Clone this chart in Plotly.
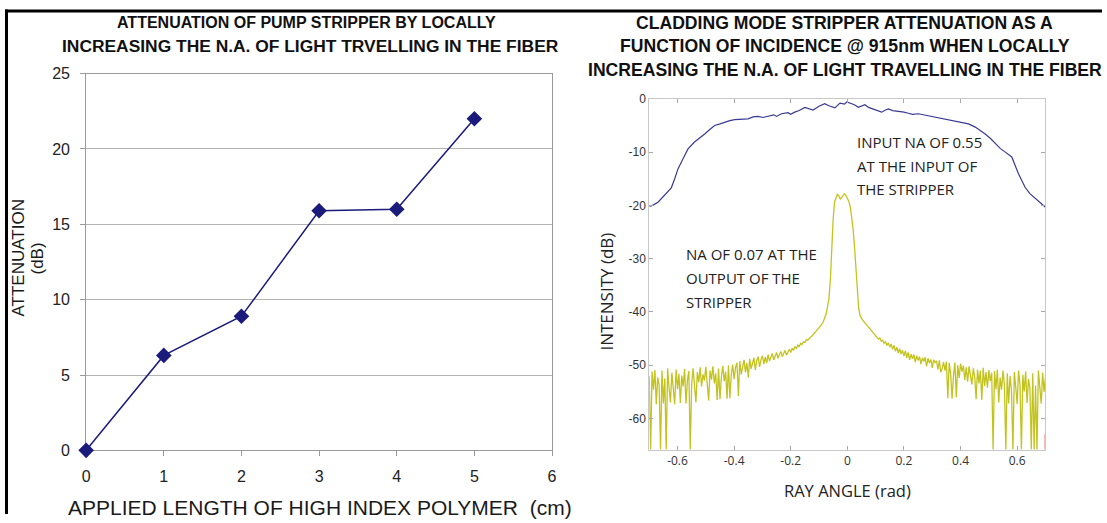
import plotly.graph_objects as go

# ---------------- data : left panel ----------------
LENGTH_CM = [0, 1, 2, 3, 4, 5]
ATTENUATION_DB = [0.0, 6.3, 8.9, 15.9, 16.0, 22.0]
LEFT_X_TICKS = [0, 1, 2, 3, 4, 5, 6]
LEFT_Y_TICKS = [0, 5, 10, 15, 20, 25]

# ---------------- data : right panel ----------------
INPUT_ANGLE = [
    -0.699, -0.685, -0.669, -0.646, -0.622, -0.610, -0.598, -0.581, -0.563, -0.540,
    -0.520, -0.504, -0.485, -0.469, -0.450, -0.434, -0.415, -0.398, -0.375, -0.351,
    -0.333, -0.316, -0.298, -0.280, -0.260, -0.250, -0.233, -0.210, -0.200, -0.186,
    -0.170, -0.150, -0.135, -0.121, -0.100, -0.080, -0.065, -0.044, -0.026, -0.010,
    -0.002, 0.009, 0.025, 0.039, 0.050, 0.062, 0.075, 0.092, 0.105, 0.121,
    0.135, 0.145, 0.160, 0.180, 0.200, 0.216, 0.230, 0.251, 0.270, 0.298,
    0.320, 0.345, 0.370, 0.393, 0.410, 0.428, 0.452, 0.470, 0.487, 0.505,
    0.522, 0.540, 0.558, 0.581, 0.605, 0.628, 0.645, 0.658, 0.680, 0.699,
]
INPUT_DB = [
    -20.2, -19.9, -19.4, -18.1, -16.7, -15.0, -13.1, -11.3, -9.4, -8.1,
    -7.3, -6.6, -5.7, -5.0, -4.7, -4.4, -4.1, -3.9, -3.8, -3.75,
    -3.4, -3.3, -3.5, -3.3, -3.0, -3.3, -2.8, -2.6, -2.9, -2.5,
    -2.2, -1.6, -1.9, -2.1, -1.4, -0.9, -1.3, -1.7, -0.8, -1.0,
    -0.6, -0.8, -1.1, -1.6, -1.3, -1.1, -1.6, -1.9, -2.2, -2.5,
    -2.1, -1.9, -2.2, -2.3, -2.5, -2.7, -2.9, -2.8, -3.0, -3.3,
    -3.5, -3.75, -4.0, -4.2, -4.4, -4.7, -5.3, -5.9, -6.6, -7.4,
    -8.4, -9.3, -10.0, -10.9, -14.1, -16.6, -17.8, -18.4, -19.5, -20.3,
]

OUTPUT_FIRST_ANGLE = -0.700
OUTPUT_ANGLE_STEP = 0.005
OUTPUT_DB = [
    -52.0, -65.8, -51.2, -54.6, -50.9, -57.3, -52.3, -53.8, -65.8, -51.0,
    -57.2, -52.5, -65.8, -50.6, -54.2, -57.0, -51.4, -53.9, -57.3, -50.8,
    -54.5, -51.6, -57.1, -52.0, -54.0, -50.7, -57.2, -52.8, -51.1, -65.8,
    -53.5, -50.6, -54.3, -57.0, -51.3, -53.2, -50.4, -54.0, -51.7, -52.9,
    -50.3, -53.6, -56.6, -51.0, -52.7, -50.2, -53.4, -51.5, -56.5, -50.6,
    -56.4, -52.2, -50.1, -53.0, -51.2, -56.3, -50.0, -56.2, -51.8, -49.9,
    -52.6, -50.4, -49.5, -55.8, -49.2, -51.7, -50.0, -49.0, -51.3, -49.6,
    -52.3, -48.8, -50.7, -49.4, -48.6, -50.9, -49.1, -48.4, -50.3, -48.9,
    -48.2, -49.8, -48.5, -49.6, -48.0, -49.2, -48.3, -47.8, -49.0, -48.1,
    -47.6, -48.7, -47.9, -47.4, -48.4, -47.7, -47.2, -48.1, -47.4, -47.0,
    -47.6, -46.8, -47.2, -46.5, -46.9, -46.2, -46.5, -45.9, -46.1, -45.6,
    -45.7, -45.2, -45.3, -44.9, -44.7, -44.5, -44.1, -43.9, -43.6, -43.3,
    -43.0, -42.6, -42.3, -41.8, -41.2, -40.4, -39.0, -37.5, -34.0, -28.0,
    -22.5, -19.3, -18.4, -17.9, -18.2, -18.8, -18.5, -18.0, -17.8, -18.1,
    -18.6, -19.2, -20.2, -22.0, -24.2, -27.5, -31.5, -36.2, -39.3, -40.7,
    -41.3, -41.6, -41.9, -42.2, -42.6, -42.9, -43.3, -43.5, -43.9, -44.0,
    -44.4, -44.6, -45.1, -44.9, -45.5, -45.3, -45.9, -45.6, -46.3, -45.8,
    -46.6, -46.0, -47.0, -46.3, -47.4, -46.6, -47.7, -46.9, -47.9, -47.2,
    -48.3, -47.3, -48.6, -47.6, -49.0, -47.9, -48.8, -48.0, -49.4, -48.2,
    -49.1, -48.4, -49.8, -48.6, -49.3, -48.5, -50.2, -48.7, -49.6, -48.9,
    -50.5, -49.0, -49.5, -49.2, -50.8, -49.1, -51.3, -50.6, -49.4, -51.0,
    -49.3, -56.2, -49.6, -51.6, -56.3, -52.0, -49.5, -56.0, -50.0, -52.4,
    -49.7, -51.2, -50.1, -52.8, -50.4, -53.1, -50.2, -51.9, -53.6, -50.6,
    -52.2, -56.4, -50.8, -53.4, -51.0, -56.5, -50.5, -53.9, -51.3, -54.2,
    -50.9, -53.0, -51.4, -65.8, -51.1, -54.5, -50.8, -57.0, -52.3, -54.6,
    -51.0, -53.7, -65.8, -51.5, -57.2, -52.0, -54.8, -65.8, -51.3, -54.1,
    -57.3, -51.0, -53.6, -65.8, -51.8, -54.9, -51.2, -57.1, -52.6, -54.4,
    -65.8, -51.5, -65.8, -53.8, -65.8, -51.0, -54.7, -57.2, -51.4, -55.0,
    -52.2,
]
OUTPUT_ANGLE = [round(OUTPUT_FIRST_ANGLE + OUTPUT_ANGLE_STEP * i, 3) for i in range(len(OUTPUT_DB))]

RED_ANGLE = [0.699, 0.699]
RED_DB = [-62.9, -65.8]

RIGHT_X_TICKS = [-0.6, -0.4, -0.2, 0, 0.2, 0.4, 0.6]
RIGHT_X_LABELS = ["-0.6", "-0.4", "-0.2", "0", "0.2", "0.4", "0.6"]
RIGHT_Y_TICKS = [0, -10, -20, -30, -40, -50, -60]
RIGHT_Y_LABELS = ["0", "-10", "-20", "-30", "-40", "-50", "-60"]

W, H = 1107, 523
NAVY = "#1b1b7c"
BLUE = "#3a3a96"
YELLOW = "#c3c31f"
GRID = "#b4b4b4"
FRAME_R = "#c8c8c8"
ARIAL = "Liberation Sans, Arial, sans-serif"
SANS = "Open Sans, sans-serif"


# layout positions are given in reference-picture pixels and mapped to paper
def px(x):
    return min(max((x - 4.0) / 0.99, 0), W) / W


def py(y):
    return 1 - min(max((y - 7.4) / 0.968, 0), H) / H


fig = go.Figure()

fig.add_trace(go.Scatter(
    x=LENGTH_CM, y=ATTENUATION_DB, mode="lines+markers",
    line=dict(color=NAVY, width=1.5),
    marker=dict(symbol="diamond", size=12, color=NAVY),
    xaxis="x", yaxis="y", cliponaxis=False, showlegend=False,
))
fig.add_trace(go.Scatter(
    x=OUTPUT_ANGLE, y=OUTPUT_DB, mode="lines",
    line=dict(color=YELLOW, width=1.3),
    xaxis="x2", yaxis="y2", showlegend=False,
))
fig.add_trace(go.Scatter(
    x=INPUT_ANGLE, y=INPUT_DB, mode="lines",
    line=dict(color=BLUE, width=1.2),
    xaxis="x2", yaxis="y2", showlegend=False,
))
fig.add_trace(go.Scatter(
    x=RED_ANGLE, y=RED_DB, mode="lines",
    line=dict(color="#f08a8a", width=1.5),
    xaxis="x2", yaxis="y2", showlegend=False,
))

fig.update_layout(
    width=W, height=H, autosize=False,
    margin=dict(l=0, r=0, t=0, b=0),
    paper_bgcolor="white", plot_bgcolor="white",
    xaxis=dict(
        domain=[px(86), px(551)], range=[0, 6], tickvals=LEFT_X_TICKS,
        showgrid=False, zeroline=False, showline=True, linecolor="#9a9a9a",
        mirror=True, ticks="outside", ticklen=5, tickcolor="#9a9a9a",
        tickfont=dict(family=ARIAL, size=16, color="#222222"),
        ticklabelstandoff=6, anchor="y", fixedrange=True, layer="below traces",
    ),
    yaxis=dict(
        domain=[py(450), py(73)], range=[0, 25], tickvals=LEFT_Y_TICKS,
        showgrid=True, gridcolor=GRID, zeroline=False, showline=True,
        linecolor="#9a9a9a", mirror=True, ticks="outside", ticklen=5,
        tickcolor="#9a9a9a", tickfont=dict(family=ARIAL, size=16, color="#222222"),
        ticklabelstandoff=7, anchor="x", fixedrange=True, layer="below traces",
    ),
    xaxis2=dict(
        domain=[px(648), px(1043.5)], range=[-0.7, 0.7],
        tickvals=RIGHT_X_TICKS, ticktext=RIGHT_X_LABELS,
        showgrid=False, zeroline=False, showline=True, linecolor=FRAME_R,
        mirror="ticks", ticks="inside", ticklen=4, tickcolor="#a8a8a8",
        tickfont=dict(family=SANS, size=12, color="#333333"),
        anchor="y2", fixedrange=True,
    ),
    yaxis2=dict(
        domain=[py(449.3), py(98.3)], range=[-65.85, 0],
        tickvals=RIGHT_Y_TICKS, ticktext=RIGHT_Y_LABELS,
        showgrid=False, zeroline=False, showline=True, linecolor=FRAME_R,
        mirror="ticks", ticks="inside", ticklen=4, tickcolor="#a8a8a8",
        tickfont=dict(family=ARIAL, size=12, color="#333333"),
        anchor="x2", fixedrange=True,
    ),
)

annotations = []


def label(text, x, y, size, family=ARIAL, color="#111111", bold=False,
          angle=0, xanchor="center"):
    annotations.append(dict(
        text=f"<b>{text}</b>" if bold else text,
        x=px(x), y=py(y), xref="paper", yref="paper",
        xanchor=xanchor, yanchor="middle", showarrow=False,
        textangle=angle, font=dict(family=family, size=size, color=color),
    ))


label("ATTENUATION OF PUMP STRIPPER BY LOCALLY", 306, 22, 16, bold=True)
label("INCREASING THE N.A. OF LIGHT TRVELLING IN THE FIBER", 310, 45, 17.4, bold=True)
label("APPLIED LENGTH OF HIGH INDEX POLYMER  (cm)", 319, 507.5, 21, color="#1a1a1a")
label("ATTENUATION", 18, 258, 17, angle=-90, color="#1a1a1a")
label("(dB)", 37, 258, 17, angle=-90, color="#1a1a1a")

label("CLADDING MODE STRIPPER ATTENUATION AS A", 843, 22, 17.6, bold=True)
label("FUNCTION OF INCIDENCE @ 915nm WHEN LOCALLY", 843, 45, 17.6, bold=True)
label("INCREASING THE N.A. OF LIGHT TRAVELLING IN THE FIBER", 843, 69, 17.6, bold=True)
label("RAY ANGLE (rad)", 846, 490, 16.5, family=SANS, color="#222222")
label("INTENSITY (dB)", 605, 291, 17, family=SANS, color="#222222", angle=-90)

for txt, yy in [("INPUT NA OF 0.55", 141), ("AT THE INPUT OF", 165), ("THE STRIPPER", 188)]:
    label(txt, 853, yy, 15, family=SANS, color="#222222", xanchor="left")
for txt, yy in [("NA OF 0.07 AT THE", 254), ("OUTPUT OF THE", 278), ("STRIPPER", 302)]:
    label(txt, 683, yy, 15, family=SANS, color="#222222", xanchor="left")

fig.update_layout(annotations=annotations)

# black page frame (top and left)
fig.add_shape(type="line", xref="paper", yref="paper",
              x0=px(5), x1=1, y0=1 - 3 / H, y1=1 - 3 / H,
              line=dict(color="black", width=3))
fig.add_shape(type="line", xref="paper", yref="paper",
              x0=px(6.5), x1=px(6.5), y0=0, y1=1 - 1.5 / H,
              line=dict(color="black", width=3))

fig.write_html(
    "out.html",
    config={"displayModeBar": False},
    post_script="document.body.style.margin='0px';document.body.style.overflow='hidden';",
)
